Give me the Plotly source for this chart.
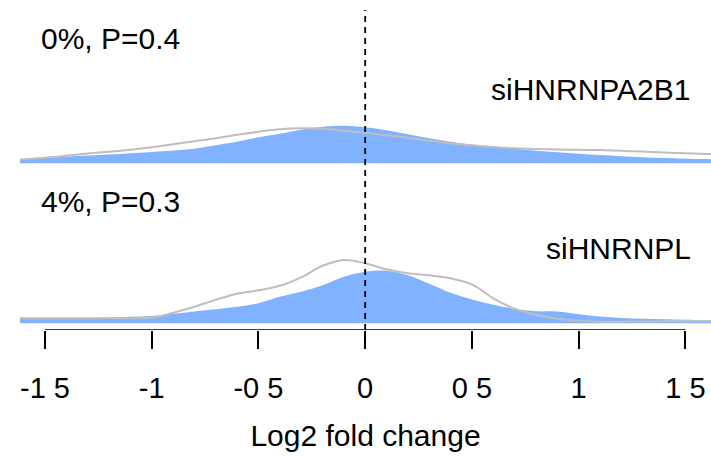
import plotly.graph_objects as go

# Evaluation grid (Log2 fold change)
x_grid = [-1.62, -1.6, -1.5, -1.4, -1.3, -1.2, -1.1, -1.0, -0.9, -0.8, -0.7, -0.6,
          -0.5, -0.4, -0.3, -0.2, -0.1, 0.0, 0.1, 0.2, 0.3, 0.4, 0.5,
          0.6, 0.7, 0.8, 0.9, 1.0, 1.1, 1.2, 1.3, 1.4, 1.5, 1.6, 1.62]

# siHNRNPA2B1 densities (blue = targets, grey = background)
a2b1_blue = [4.2, 4.3, 5.3, 6.5, 7.7, 8.7, 10, 11.3, 12.8, 14.5, 18, 21.5,
             26, 29.5, 33.5, 36.5, 37.5, 36, 33, 29, 25, 21.5, 18.5,
             16.3, 14.5, 12.5, 11, 9.5, 8.2, 7, 6, 5.2, 4.6, 4.2, 4.1]
a2b1_grey = [3.8, 4, 5.5, 7.5, 9.8, 11.5, 13.5, 16, 19, 22, 25, 28.5,
             31.5, 34, 35, 34.5, 32.5, 30.5, 28, 25.5, 22.5, 20, 18,
             16.3, 15, 14.3, 13.8, 13.5, 13.2, 12.5, 11.7, 10.8, 10, 9.3, 9.2]

# siHNRNPL densities
l_blue = [4.3, 4.3, 4.6, 5, 5.4, 5.8, 6.5, 7.4, 9.5, 11.8, 14, 16.5,
          20, 26.5, 31.5, 38, 46.5, 51.6, 52.5, 48, 39.5, 30.5, 23.8,
          18.5, 14.5, 12, 11.8, 9, 6.8, 5.3, 4.5, 4, 3.6, 3.3, 3.3]
l_grey = [5, 5, 5, 5, 5, 5, 5, 5.5, 10.5, 16.5, 23.5, 29.5,
          33, 37.5, 46, 57.5, 63.3, 60, 54, 50, 48, 45, 39,
          25, 14.5, 8.5, 4.5, 2.5, 1.6, 1.6, 1.8, 2, 2.2, 2.3, 2.3]

panel_names = ["siHNRNPA2B1", "siHNRNPL"]
panel_stats = ["0%, P=0.4", "4%, P=0.3"]

tick_vals = [-1.5, -1, -0.5, 0, 0.5, 1, 1.5]
tick_text = ["-1 5", "-1", "-0 5", "0", "0 5", "1", "1 5"]

BLUE = "rgb(128,178,255)"
GREY = "rgb(190,190,190)"
FONT = "Liberation Sans, Arial, Helvetica, sans-serif"

panels = [
    (166.7, a2b1_blue, a2b1_grey),
    (6.7, l_blue, l_grey),
]

fig = go.Figure()
for base, blue, grey in panels:
    fig.add_trace(go.Scatter(x=x_grid, y=[base for _ in x_grid], mode="lines",
                             line=dict(width=0, color=BLUE), showlegend=False,
                             hoverinfo="skip"))
    fig.add_trace(go.Scatter(x=x_grid, y=[base + v for v in blue], mode="lines",
                             line=dict(width=0, color=BLUE, shape="spline", smoothing=1),
                             fill="tonexty", fillcolor=BLUE, showlegend=False))
    fig.add_trace(go.Scatter(x=x_grid, y=[base + v for v in grey], mode="lines",
                             line=dict(width=2, color=GREY, shape="spline", smoothing=1),
                             showlegend=False))

# axis line spanning first to last tick (R-style)
fig.add_shape(type="line", xref="x", yref="y", x0=tick_vals[0], x1=tick_vals[-1],
              y0=0, y1=0, line=dict(color="black", width=1.5))
# dashed zero line
fig.add_shape(type="line", xref="x", yref="y", x0=0, x1=0, y0=0, y1=320,
              line=dict(color="black", width=1.8, dash="6px,5px"), layer="above")

ann_font = dict(family=FONT, size=30, color="black")
label_y = [(292, 241), (129, 82)]
for (ys, yn), name, stat in zip(label_y, panel_names, panel_stats):
    fig.add_annotation(x=-1.528, y=ys, xref="x", yref="y", text=stat, showarrow=False,
                       xanchor="left", yanchor="middle", font=ann_font)
    fig.add_annotation(x=1.536, y=yn, xref="x", yref="y", text=name, showarrow=False,
                       xanchor="right", yanchor="middle", font=ann_font)

fig.update_layout(
    width=711, height=456,
    margin=dict(l=20, r=0, t=0, b=126, autoexpand=False),
    plot_bgcolor="white", paper_bgcolor="white",
    xaxis=dict(range=[-1.617, 1.62], showgrid=False, zeroline=False, showline=False,
               automargin=False,
               tickmode="array", tickvals=tick_vals, ticktext=tick_text,
               ticks="outside", ticklen=18, tickwidth=1.5, tickcolor="black",
               tickfont=dict(family=FONT, size=29, color="black"),
               ticklabelstandoff=14,
               title=dict(text="Log2 fold change", font=dict(family=FONT, size=30, color="black"),
                          standoff=22)),
    yaxis=dict(range=[0, 330], visible=False, fixedrange=True),
)

fig.write_html("out.html", config={"displayModeBar": False},
               post_script="document.body.style.margin='0';document.body.style.padding='0';")
